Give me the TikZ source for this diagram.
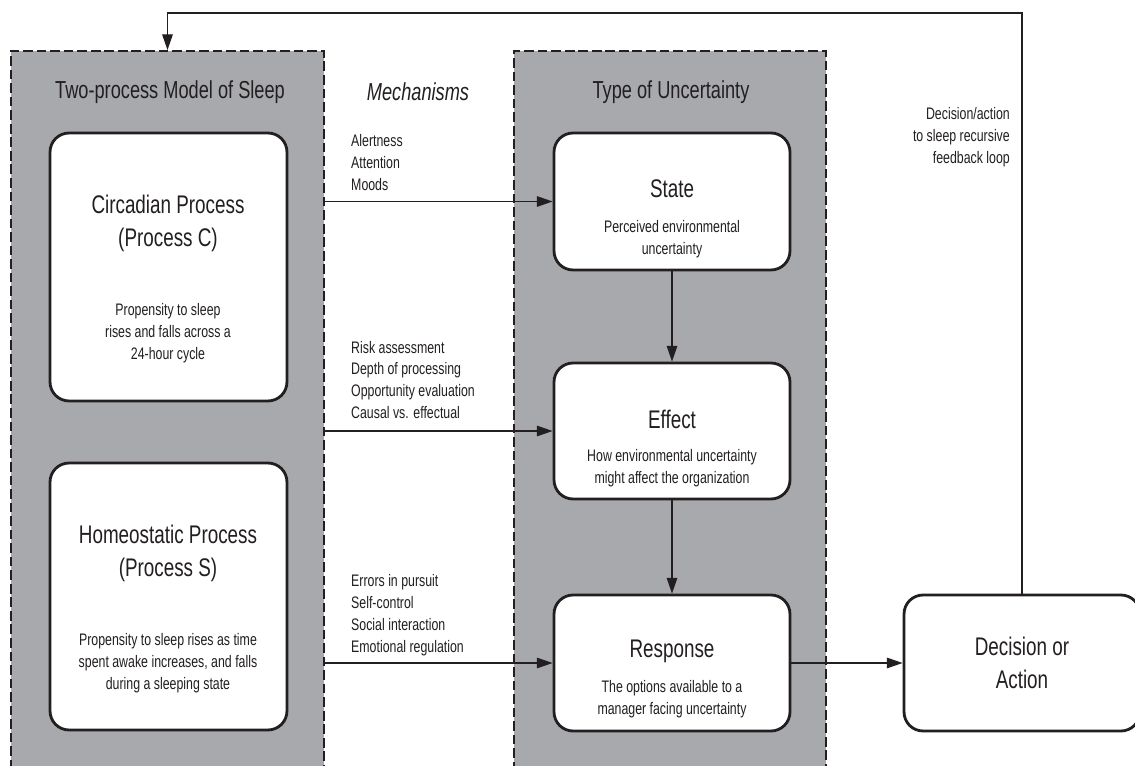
\documentclass[tikz,border=0pt]{standalone}
\usepackage{fontspec}
\setmainfont[FakeStretch=0.74]{Liberation Sans}
\usetikzlibrary{arrows.meta,positioning}
\definecolor{panelgray}{HTML}{A7A9AC}
\definecolor{ink}{HTML}{231F20}
\tikzset{
  panel/.style={draw=ink, fill=panelgray, dash pattern=on 5.5pt off 2.2pt,
    line width=1.1pt, minimum width=#1, minimum height=14.98cm, inner sep=0pt},
  procbox/.style={draw=ink, fill=white, rounded corners=0.38cm,
    line width=1.6pt, inner sep=0pt},
  paneltitle/.style={font=\fontsize{14}{16}\selectfont, text=ink},
  boxtitle/.style={font=\fontsize{14.5}{18.7}\selectfont, text=ink, align=center},
  boxtext/.style={font=\fontsize{9.5}{12.5}\selectfont, text=ink, align=center},
  mechtext/.style={font=\fontsize{9.5}{12.5}\selectfont, text=ink, align=left, anchor=west},
  flow/.style={-{Triangle[length=9pt,width=6pt]}, draw=ink, line width=0.8pt},
}
\begin{document}
\begin{tikzpicture}[x=0.02cm,y=-0.02cm]
  \clip (0,0) rectangle (1135,766);
  % the two grey panels
  \node[panel=6.26cm] (sleep) at (167.5,425.5) {};
  \node[panel=6.24cm] (uncert) at (670,425.5) {};
  \node[paneltitle] (sleeptitle) at (170,92) {Two-process Model of Sleep};
  \node[paneltitle, font=\fontsize{14}{16}\selectfont\itshape] (mech) at (418,92) {Mechanisms};
  \node[paneltitle] (uncerttitle) at (671,92) {Type of Uncertainty};

  % sleep processes
  \node[procbox, minimum width=4.74cm, minimum height=5.36cm] (circ) at (168.5,267) {};
  \node[boxtitle] (circtitle) at (168,223) {Circadian Process\\(Process C)};
  \node[boxtext] (circtext) at (168,333) {Propensity to sleep\\rises and falls across a\\24-hour cycle};
  \node[procbox, minimum width=4.74cm, minimum height=5.34cm] (homeo) at (168.5,596.5) {};
  \node[boxtitle] (homeotitle) at (168,553) {Homeostatic Process\\(Process S)};
  \node[boxtext] (homeotext) at (168,663) {Propensity to sleep rises as time\\spent awake increases, and falls\\during a sleeping state};

  % types of uncertainty
  \node[procbox, minimum width=4.72cm, minimum height=2.74cm] (state) at (672,201.5) {};
  \node[boxtitle] (statetitle) at (672,189) {State};
  \node[boxtext] (statetext) at (672,239.5) {Perceived environmental\\uncertainty};
  \node[procbox, minimum width=4.72cm, minimum height=2.72cm] (effect) at (672,431) {};
  \node[boxtitle] (effecttitle) at (672,419) {Effect};
  \node[boxtext] (effecttext) at (672,468.5) {How environmental uncertainty\\might affect the organization};
  \node[procbox, minimum width=4.72cm, minimum height=2.72cm] (resp) at (672,663) {};
  \node[boxtitle] (resptitle) at (672,651) {Response};
  \node[boxtext] (resptext) at (672,699.5) {The options available to a\\manager facing uncertainty};

  \node[procbox, minimum width=4.72cm, minimum height=2.72cm, boxtitle] (decide) at (1022,663) {Decision or\\Action};

  % mechanisms
  \node[mechtext] (mechc) at (345,163) {Alertness\\Attention\\Moods};
  \node[mechtext] (mecheff) at (345,380) {Risk assessment\\Depth of processing\\Opportunity evaluation\\Causal vs. effectual};
  \node[mechtext] (mechs) at (345,615) {Errors in pursuit\\Self-control\\Social interaction\\Emotional regulation};
  \node[boxtext, align=right, anchor=east] (looptext) at (1016,137) {Decision/action\\to sleep recursive\\feedback loop};

  % connectors
  \draw[flow] (state.west -| sleep.east) -- (state.west);
  \draw[flow] (effect.west -| sleep.east) -- (effect.west);
  \draw[flow] (resp.west -| sleep.east) -- (resp.west);
  \draw[flow] (state) -- (effect);
  \draw[flow] (effect) -- (resp);
  \draw[flow] (resp) -- (decide);
  \coordinate (looptop) at (0,13);
  \draw[flow] (decide.north) -- (decide.north |- looptop) -| (sleep.north);
\end{tikzpicture}
\end{document}
